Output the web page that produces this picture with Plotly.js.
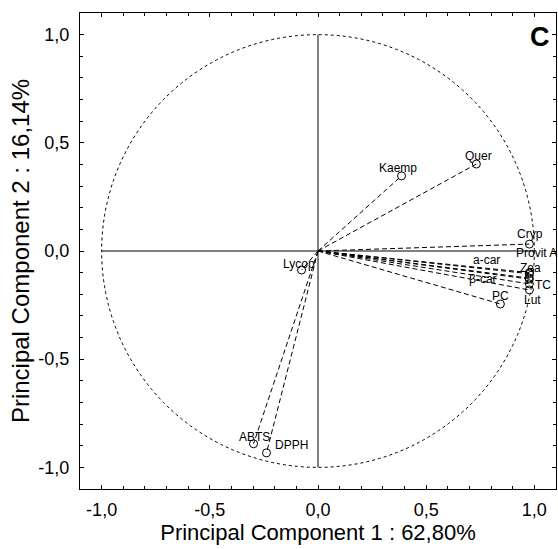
<!DOCTYPE html>
<html>
<head>
<meta charset="utf-8">
<script src="https://cdn.plot.ly/plotly-3.0.1.min.js"></script>
<style>html,body{margin:0;padding:0;background:#fff;}#chart{width:558px;height:549px;}</style>
</head>
<body>
<div id="chart"></div>
<script>
// Variable names and their loadings on PC1 / PC2
var variables = ["Kaemp", "Quer", "Cryp", "Provit A", "Zea", "a-car", "β-car", "TC", "Lut", "PC", "Lycop", "ABTS", "DPPH"];
var pc1 = [0.386, 0.732, 0.977, 0.977, 0.977, 0.975, 0.977, 0.977, 0.977, 0.843, -0.076, -0.298, -0.238];
var pc2 = [0.347, 0.402, 0.032, -0.100, -0.105, -0.125, -0.130, -0.152, -0.180, -0.245, -0.088, -0.891, -0.933];

var tickVals = [-1.0, -0.5, 0.0, 0.5, 1.0];
var tickText = ["-1,0", "-0,5", "0,0", "0,5", "1,0"];

// label offsets in pixels (style only)
var labelDx = [-4, 2, 1, 7, 1, -42, -46, 14, 3, 0, -3, 1, 25];
var labelDy = [8, 8, 10, 20, 6, 18, 0, -1, -10, 8, 6, 7, 8];

var FONT = "Liberation Sans, Arial, sans-serif";

var traces = [];
for (var i = 0; i < variables.length; i++) {
  traces.push({
    x: [0, pc1[i]], y: [0, pc2[i]],
    type: "scatter", mode: "lines",
    line: {color: "#000", width: 1, dash: "5px,3px"},
    hoverinfo: "skip", showlegend: false
  });
}
traces.push({
  x: pc1, y: pc2, text: variables,
  type: "scatter", mode: "markers",
  marker: {symbol: "circle-open", size: 8, color: "#000", line: {width: 1, color: "#000"}},
  showlegend: false
});

var annotations = variables.map(function (v, i) {
  return {x: pc1[i], y: pc2[i], xref: "x", yref: "y", text: v, showarrow: false,
          xanchor: "center", yanchor: "middle",
          xshift: labelDx[i], yshift: labelDy[i],
          font: {family: FONT, size: 12, color: "#000"}};
});
annotations.push({x: 0.966, y: 0.95, xref: "paper", yref: "paper", text: "<b>C</b>",
  xanchor: "center", yanchor: "middle",
  showarrow: false, font: {family: FONT, size: 27, color: "#000"}});

var axisCommon = {
  range: [-1.1, 1.1], tickmode: "array", tickvals: tickVals, ticktext: tickText,
  showgrid: false, zeroline: false, showline: true, linecolor: "#000", linewidth: 1,
  mirror: "allticks", ticks: "inside", ticklen: 4, tickcolor: "#000",
  minor: {dtick: 0.1, tick0: 0, ticks: "inside", ticklen: 3, tickcolor: "#000", showgrid: false},
  tickfont: {family: FONT, size: 18, color: "#000"}
};

var layout = {
  width: 558, height: 549,
  margin: {l: 80, r: 2, t: 13, b: 60},
  paper_bgcolor: "#fff", plot_bgcolor: "#fff",
  font: {family: FONT, color: "#000"},
  xaxis: Object.assign({}, axisCommon, {
    ticklabelstandoff: 4,
    title: {text: "Principal Component 1 : 62,80%", font: {family: FONT, size: 22, color: "#000"}, standoff: 6}
  }),
  yaxis: Object.assign({}, axisCommon, {
    ticklabelstandoff: 6,
    title: {text: "Principal Component 2 : 16,14%", font: {family: FONT, size: 24, color: "#000"}, standoff: 1}
  }),
  shapes: [
    {type: "circle", xref: "x", yref: "y", x0: -1, y0: -1, x1: 1, y1: 1,
     line: {color: "#000", width: 1, dash: "dot"}},
    {type: "line", xref: "x", yref: "y", x0: -1, y0: 0, x1: 1, y1: 0, line: {color: "#000", width: 1}},
    {type: "line", xref: "x", yref: "y", x0: 0, y0: -1, x1: 0, y1: 1, line: {color: "#000", width: 1}}
  ],
  annotations: annotations
};

Plotly.newPlot("chart", traces, layout, {displayModeBar: false, staticPlot: true});
</script>
</body>
</html>
